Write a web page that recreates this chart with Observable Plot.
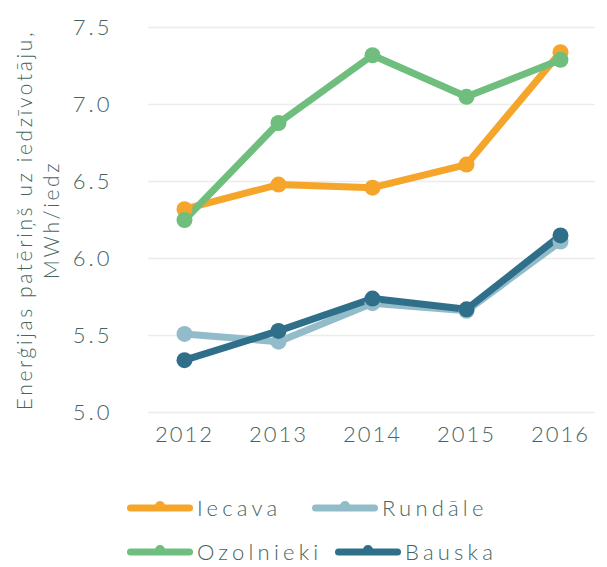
<!DOCTYPE html>
<html>
<head>
<meta charset="utf-8">
<script src="https://cdn.jsdelivr.net/npm/d3@7"></script>
<script src="https://cdn.jsdelivr.net/npm/@observablehq/plot@0.6"></script>
<style>
  body { margin: 0; background: #fff; }
  #wrap { position: relative; width: 607px; height: 567px; font-family: "Lato", "DejaVu Sans", sans-serif; font-weight: 300; color: #45655e; }
  #chart svg { display: block; }
  .leg { position: absolute; display: flex; align-items: center; font-size: 22px; letter-spacing: 4.2px; white-space: nowrap; }
  .leg svg { display: block; margin-right: 4px; }
</style>
</head>
<body>
<div id="wrap">
  <div id="chart"></div>
  <div id="legend"></div>
</div>
<script>
const years = ["2012", "2013", "2014", "2015", "2016"];
const seriesNames = ["Iecava", "Rundāle", "Ozolnieki", "Bauska"];
const iecava    = [6.32, 6.48, 6.46, 6.61, 7.34];
const rundale   = [5.51, 5.46, 5.71, 5.66, 6.11];
const ozolnieki = [6.25, 6.88, 7.32, 7.05, 7.29];
const bauska    = [5.34, 5.53, 5.74, 5.67, 6.15];
const colors = ["#f5a52a", "#93bccb", "#6fbe7e", "#2f6f89"];
const yTicks = [5.0, 5.5, 6.0, 6.5, 7.0, 7.5];
const yLabel = "Enerģijas patēriņš uz iedzīvotāju,\nMWh/iedz";

const valuesBySeries = [iecava, rundale, ozolnieki, bauska];
const data = [];
seriesNames.forEach((s, i) => years.forEach((y, j) => data.push({series: s, year: y, value: valuesBySeries[i][j]})));

const plot = Plot.plot({
  width: 607,
  height: 470,
  marginLeft: 148,
  marginRight: 12,
  marginTop: 27,
  marginBottom: 58,
  style: {fontFamily: "Lato, 'DejaVu Sans', sans-serif", fontWeight: 300, fontSize: "22px", color: "#45655e", background: "transparent"},
  x: {type: "point", domain: years, padding: 0.36, label: null, tickSize: 0, tickPadding: 14},
  y: {domain: [5, 7.5], ticks: yTicks, tickFormat: d => d.toFixed(1), label: null, tickSize: 0, tickPadding: 36},
  color: {domain: seriesNames, range: colors},
  marks: [
    Plot.gridY(yTicks, {stroke: "#ececec", strokeOpacity: 1, strokeWidth: 1.5}),
    Plot.line(data, {x: "year", y: "value", z: "series", stroke: "series", strokeWidth: 7, strokeLinejoin: "round", strokeLinecap: "round"}),
    Plot.dot(data, {x: "year", y: "value", fill: "series", r: 8, stroke: null}),
    Plot.text([yLabel], {frameAnchor: "left", rotate: -90, dx: -112, fontSize: 21, lineHeight: 1.3, fill: "#45655e", textAnchor: "middle", lineAnchor: "middle", className: "ylab"})
  ]
});
plot.querySelectorAll("g[aria-label='x-axis tick label'] text").forEach(t => t.style.letterSpacing = "2px");
plot.querySelectorAll("g[aria-label='y-axis tick label'] text").forEach(t => t.style.letterSpacing = "3px");
plot.querySelectorAll(".ylab text").forEach(t => t.style.letterSpacing = "2.6px");
document.getElementById("chart").appendChild(plot);

// legend
const legendPos = [[127, 507], [312, 507], [127, 551], [335, 551]];
const legend = document.getElementById("legend");
seriesNames.forEach((s, i) => {
  const d = document.createElement("div");
  d.className = "leg";
  d.style.left = legendPos[i][0] + "px";
  d.style.top = (legendPos[i][1] - 14) + "px";
  d.style.height = "28px";
  d.innerHTML = `<svg width="66" height="14"><line x1="3.5" y1="8" x2="62.5" y2="8" stroke="${colors[i]}" stroke-width="7" stroke-linecap="round"/><circle cx="33" cy="6" r="5" fill="${colors[i]}"/></svg><span>${s}</span>`;
  legend.appendChild(d);
});
</script>
</body>
</html>
